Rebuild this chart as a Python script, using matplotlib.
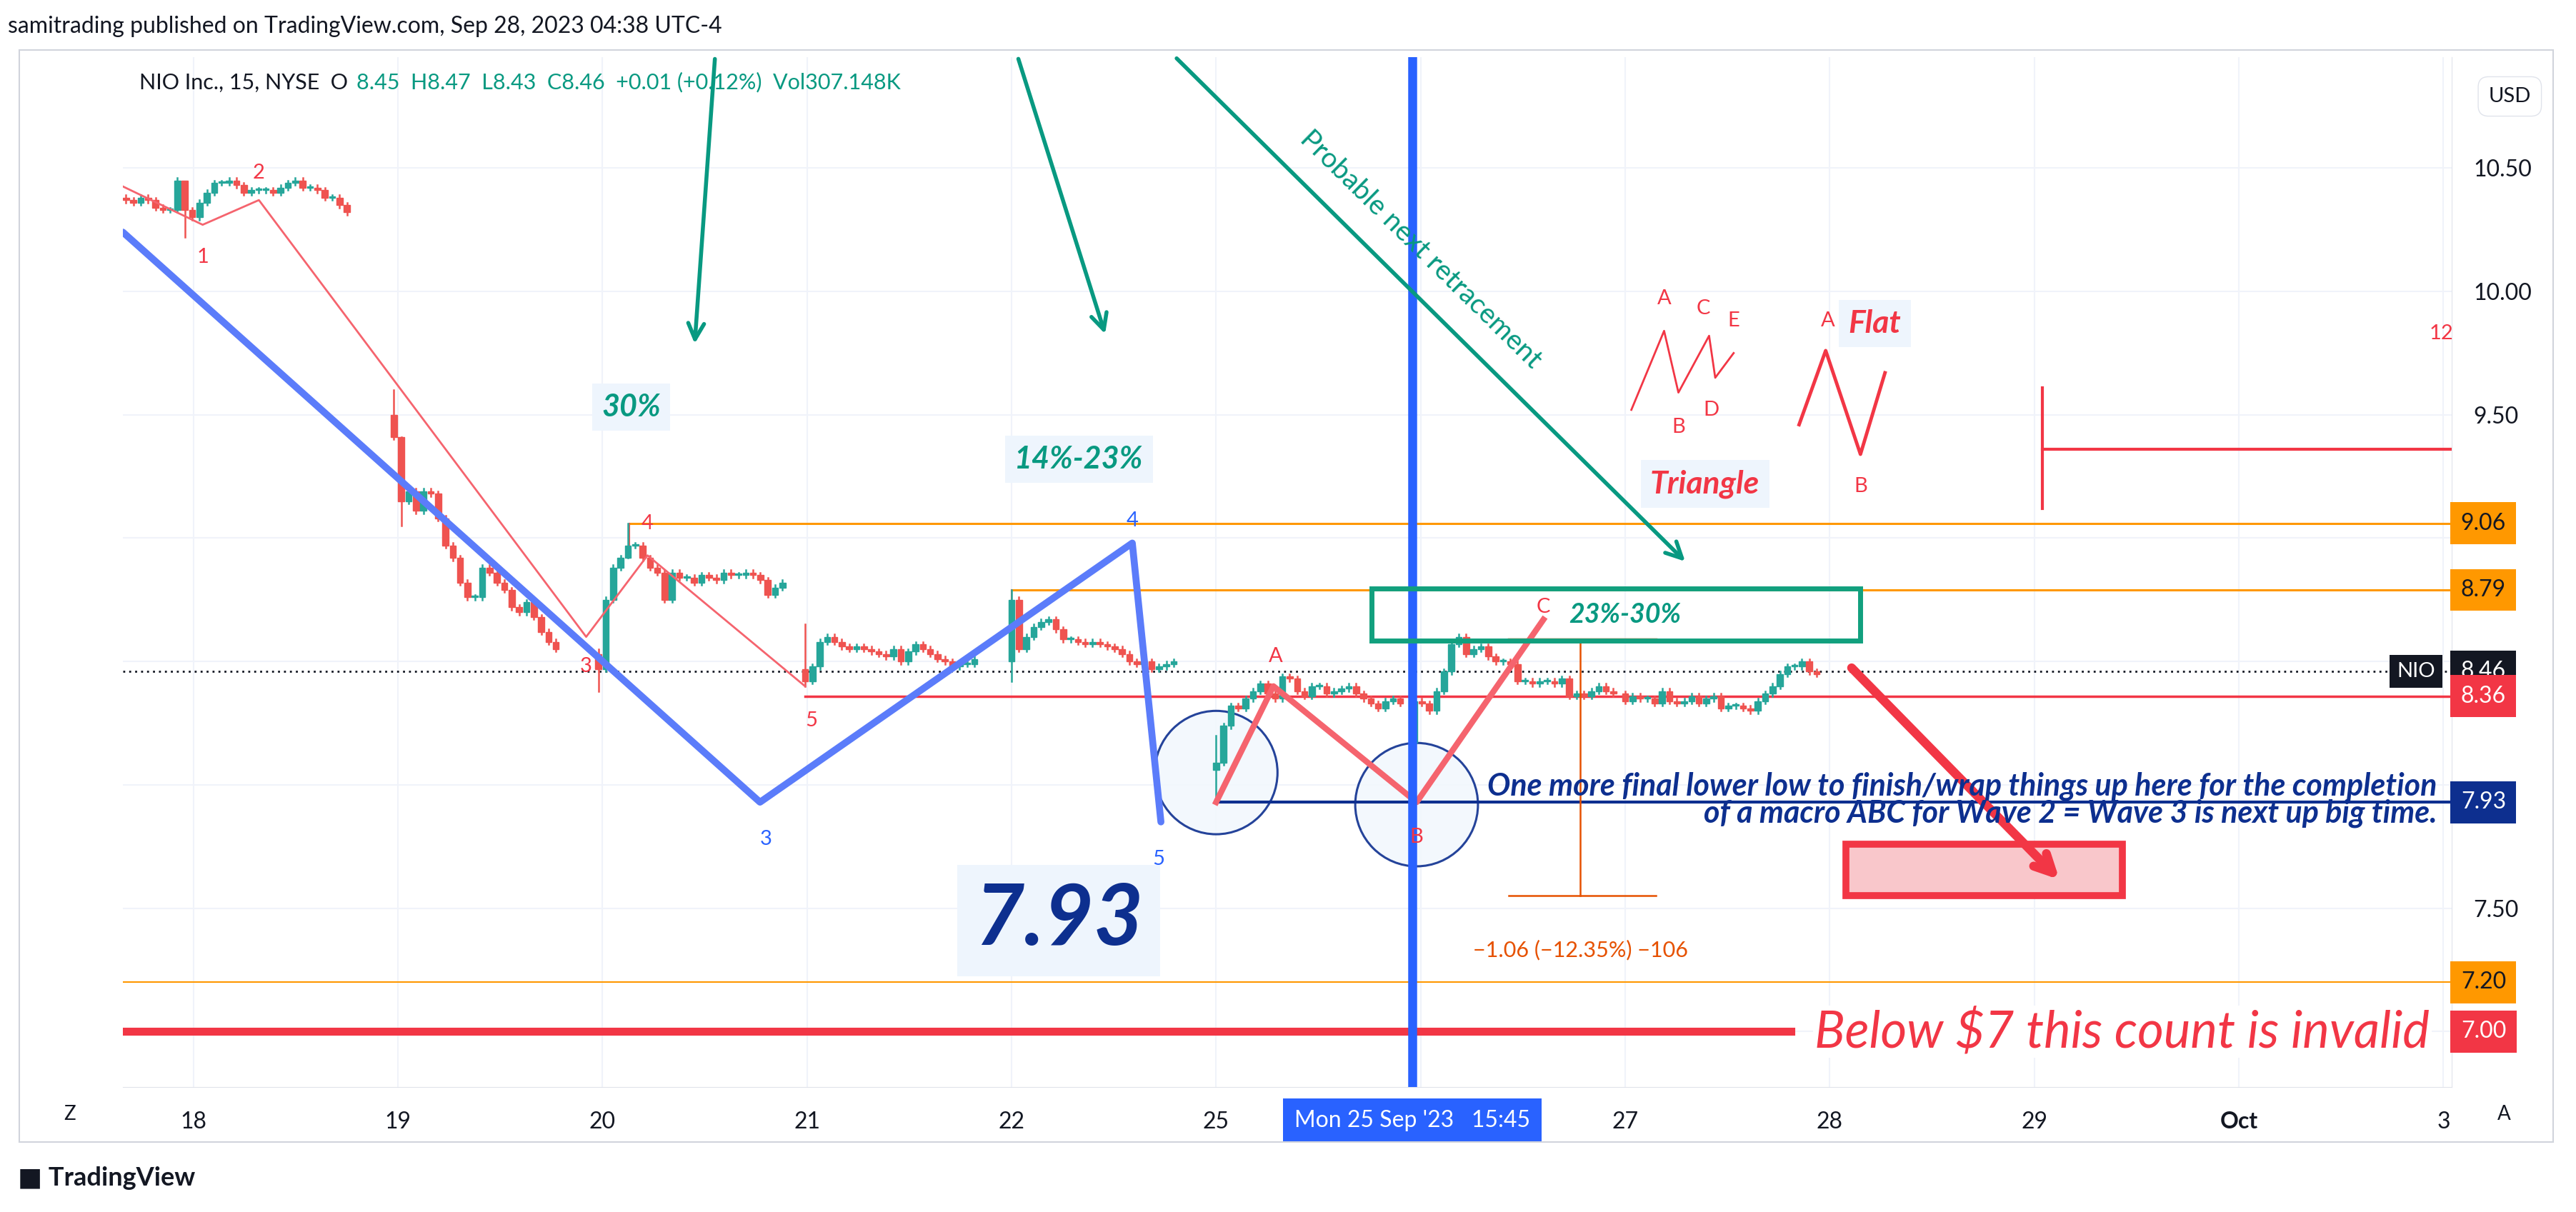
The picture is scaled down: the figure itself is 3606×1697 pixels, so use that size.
import matplotlib
matplotlib.use("Agg")
import matplotlib.pyplot as plt
from matplotlib.patches import Ellipse, Rectangle

plt.rcParams["font.family"] = ["Lato", "DejaVu Sans"]

# ---- data -------------------------------------------------------------
day_labels = ["18", "19", "20", "21", "22", "25", "", "27", "28", "29", "Oct", "3"]
price_ticks = [7.5, 9.5, 10.0, 10.5]

# 15-min sessions: (start position in day units, first open, closes, {bar: (high, low)})
sessions = [
    (-0.33, 10.38, [10.37, 10.36, 10.38, 10.37, 10.34, 10.33, 10.33, 10.45, 10.33, 10.30, 10.36,
                    10.40, 10.44, 10.44, 10.45, 10.43, 10.40, 10.41, 10.41, 10.41, 10.40, 10.42,
                    10.44, 10.45, 10.42, 10.42, 10.41, 10.38, 10.38, 10.35, 10.32],
     {8: (10.40, 10.22)}),
    (0.98, 9.50, [9.41, 9.15, 9.19, 9.11, 9.19, 9.18, 9.08, 8.97, 8.92, 8.82, 8.76, 8.76, 8.88,
                  8.86, 8.82, 8.79, 8.72, 8.70, 8.74, 8.68, 8.62, 8.58, 8.55],
     {0: (9.60, 9.40), 1: (9.41, 9.05)}),
    (1.98, 8.53, [8.47, 8.75, 8.88, 8.92, 8.97, 8.97, 8.92, 8.88, 8.86, 8.75, 8.86, 8.84, 8.84,
                  8.82, 8.85, 8.84, 8.83, 8.86, 8.85, 8.85, 8.86, 8.85, 8.83, 8.77, 8.80, 8.82],
     {0: (8.55, 8.38), 4: (9.06, 8.92)}),
    (2.99, 8.47, [8.42, 8.48, 8.58, 8.60, 8.58, 8.56, 8.55, 8.56, 8.55, 8.54, 8.53, 8.52, 8.55,
                  8.50, 8.54, 8.57, 8.55, 8.53, 8.51, 8.50, 8.48, 8.49, 8.49, 8.51],
     {0: (8.65, 8.40)}),
    (4.00, 8.50, [8.75, 8.55, 8.60, 8.64, 8.66, 8.67, 8.63, 8.59, 8.59, 8.58, 8.57, 8.58, 8.57,
                  8.56, 8.55, 8.53, 8.50, 8.49, 8.50, 8.47, 8.48, 8.49, 8.50],
     {0: (8.79, 8.42)}),
    (5.00, 8.06, [8.09, 8.24, 8.32, 8.31, 8.35, 8.38, 8.41, 8.37, 8.35, 8.44, 8.43, 8.38, 8.36,
                  8.40, 8.40, 8.37, 8.38, 8.39, 8.40, 8.37, 8.35, 8.33, 8.31, 8.34, 8.35, 8.33],
     {0: (8.20, 7.93)}),
    (5.97, 8.17, [8.34, 8.33, 8.30, 8.38, 8.46, 8.57, 8.60, 8.53, 8.55, 8.56, 8.52, 8.50, 8.50,
                  8.49, 8.42, 8.42, 8.41, 8.42, 8.42, 8.41, 8.43, 8.36, 8.37, 8.36, 8.38, 8.40,
                  8.38, 8.37],
     {0: (8.35, 7.93)}),
    (7.00, 8.37, [8.34, 8.36, 8.35, 8.35, 8.33, 8.38, 8.34, 8.33, 8.34, 8.36, 8.33, 8.35, 8.36,
                  8.31, 8.32, 8.32, 8.31, 8.30, 8.34, 8.37, 8.40, 8.45, 8.48, 8.48, 8.50, 8.46,
                  8.45],
     {}),
]
bar_step = 0.036

blue_wave_x = [-0.345, 2.77, 4.59, 4.73]
blue_wave_p = [10.24, 7.93, 8.98, 7.85]
red_wave_x = [-0.357, 0.045, 0.32, 1.92, 2.22, 2.99]
red_wave_p = [10.43, 10.27, 10.37, 8.60, 8.93, 8.40]
abc_x = [5.00, 5.28, 5.98, 6.60]
abc_p = [7.93, 8.40, 7.93, 8.67]
tri_x = [7.03, 7.19, 7.26, 7.41, 7.44, 7.53]
tri_p = [9.52, 9.84, 9.59, 9.82, 9.65, 9.75]
flat_x = [7.85, 7.98, 8.15, 8.27]
flat_p = [9.46, 9.76, 9.34, 9.67]

GREEN, RED = "#26a69a", "#ef5350"
TEAL = "#089981"
NAVY = "#0d2f8f"
ORANGE = "#ff9800"
XMIN, XMAX, YMIN, YMAX = -0.345, 11.04, 6.775, 10.95

fig = plt.figure(figsize=(36.06, 16.97), dpi=100)
ax = fig.add_axes([0.0477, 0.103, 0.904, 0.85])
ax.set_xlim(XMIN, XMAX)
ax.set_ylim(YMIN, YMAX)

# grid
for i in range(len(day_labels)):
    ax.axvline(i, color="#f0f3fa", lw=1.5, zorder=0)
for p in [7.0, 7.5, 8.0, 8.5, 9.0, 9.5, 10.0, 10.5]:
    ax.axhline(p, color="#f0f3fa", lw=1.5, zorder=0)

# candles
for start, first_open, closes, extremes in sessions:
    o = first_open
    for i, c in enumerate(closes):
        x = start + i * bar_step
        col = GREEN if c >= o else RED
        hi, lo = extremes.get(i, (max(o, c) + 0.01, min(o, c) - 0.01))
        ax.plot([x, x], [lo, hi], color=col, lw=1.8, zorder=3)
        ax.add_patch(Rectangle((x - 0.015, min(o, c)), 0.030, max(abs(c - o), 0.006),
                               color=col, zorder=3))
        o = c

# horizontal levels
ax.axhline(8.46, color="#131722", lw=2, ls=(0, (1, 2)), zorder=2)
ax.plot([2.13, XMAX], [9.06, 9.06], color=ORANGE, lw=2.2, zorder=2)
ax.plot([2.13, 2.13], [8.93, 9.06], color=RED, lw=1.5, zorder=2)
ax.plot([4.0, XMAX], [8.79, 8.79], color=ORANGE, lw=2.2, zorder=2)
ax.plot([4.0, 4.0], [8.50, 8.79], color=RED, lw=1.5, zorder=2)
ax.plot([2.99, XMAX], [8.36, 8.36], color="#f23645", lw=2.5, zorder=2)
ax.axhline(7.20, color=ORANGE, lw=1.5, zorder=2)
ax.plot([XMIN, 7.81], [7.00, 7.00], color="#f23645", lw=8, zorder=2)
ax.plot([5.0, XMAX], [7.93, 7.93], color=NAVY, lw=3, zorder=4)

# waves
ax.plot(blue_wave_x, blue_wave_p, color="#5b7cfa", lw=7, zorder=5, solid_capstyle="round")
ax.plot(red_wave_x, red_wave_p, color="#f5646e", lw=2, zorder=4)
ax.plot(abc_x, abc_p, color="#f5646e", lw=6, zorder=5)
ax.plot(tri_x, tri_p, color="#f23645", lw=2, zorder=4)
ax.plot(flat_x, flat_p, color="#f23645", lw=3.5, zorder=4)

for e in [(5.0, 8.05), (5.98, 7.92)]:
    ax.add_patch(Ellipse(e, 0.60, 0.50, facecolor="#f2f8fd", edgecolor=NAVY, lw=2.2, alpha=0.9, zorder=2))

ax.axvline(5.96, color="#2962ff", lw=9, zorder=6)

def lab(x, p, s, col, size=21, **kw):
    ax.text(x, p, s, color=col, fontsize=size, ha="center", va="center", zorder=8, **kw)

for x, p, s in [(0.045, 10.14, "1"), (0.32, 10.48, "2"), (1.92, 8.48, "3"), (2.22, 9.06, "4"),
                (3.02, 8.26, "5"), (5.29, 8.52, "A"), (5.98, 7.79, "B"), (6.60, 8.72, "C"),
                (7.19, 9.97, "A"), (7.38, 9.93, "C"), (7.53, 9.88, "E"), (7.26, 9.45, "B"),
                (7.42, 9.52, "D"), (7.99, 9.88, "A"), (8.27, 9.80, "C"), (8.15, 9.21, "B"),
                (10.99, 9.83, "12")]:
    lab(x, p, s, "#f23645")
for x, p, s in [(2.80, 7.78, "3"), (4.59, 9.07, "4"), (4.72, 7.70, "5")]:
    lab(x, p, s, "#2962ff")

bg = dict(boxstyle="square,pad=0.3", facecolor="#eef5fd", edgecolor="none")
lab(7.39, 9.22, "Triangle", "#f23645", 32, fontweight="bold", style="italic", bbox=bg)
lab(8.22, 9.87, "Flat", "#f23645", 32, fontweight="bold", style="italic", bbox=bg)
lab(2.14, 9.53, "30%", TEAL, 31, fontweight="bold", style="italic", bbox=bg)
lab(4.33, 9.32, "14%-23%", TEAL, 31, fontweight="bold", style="italic", bbox=bg)
lab(4.23, 7.45, "7.93", NAVY, 86, fontweight="bold", style="italic",
    bbox=dict(boxstyle="square,pad=0.2", facecolor="#eef5fd", edgecolor="none"))

# red L
ax.plot([9.04, 9.04], [9.12, 9.61], color="#f23645", lw=3, zorder=4)
ax.plot([9.04, XMAX], [9.36, 9.36], color="#f23645", lw=3, zorder=4)

# green arrows
for (x0, p0), (x1, p1) in [((2.55, 10.95), (2.45, 9.78)), ((4.03, 10.95), (4.46, 9.82)),
                           ((4.80, 10.95), (7.30, 8.90))]:
    ax.annotate("", xy=(x1, p1), xytext=(x0, p0),
                arrowprops=dict(arrowstyle="->,head_length=1.6,head_width=0.8", color=TEAL, lw=4),
                zorder=7)
lab(6.0, 10.17, "Probable next retracement", TEAL, 28, rotation=-44.5)

# target box
ax.add_patch(Rectangle((5.76, 8.585), 8.15 - 5.76, 8.795 - 8.585, fill=False, edgecolor="#12a07e",
                       lw=5, zorder=6))
lab(7.0, 8.69, "23%-30%", TEAL, 27, fontweight="bold", style="italic")

# measure
ax.plot([6.78, 6.78], [7.55, 8.59], color="#e65100", lw=1.8, zorder=4)
ax.plot([6.43, 7.15], [8.59, 8.59], color="#e65100", lw=2.5, zorder=4)
ax.plot([6.43, 7.15], [7.55, 7.55], color="#e65100", lw=1.8, zorder=4)
lab(6.78, 7.33, "\u22121.06 (\u221212.35%) \u2212106", "#e65100", 22)

ax.text(10.97, 7.94, "One more final lower low to finish/wrap things up here for the completion\n"
        "of a macro ABC for Wave 2 = Wave 3 is next up big time.", color=NAVY, fontsize=31,
        style="italic", fontweight="bold", ha="right", va="center", zorder=8, linespacing=0.95)

ax.add_patch(Rectangle((8.08, 7.55), 1.35, 0.21, facecolor="#f9c7cb", edgecolor="#f23645", lw=7, zorder=6))
ax.annotate("", xy=(9.13, 7.61), xytext=(8.10, 8.48),
            arrowprops=dict(arrowstyle="->,head_length=1.8,head_width=0.9", color="#f23645", lw=9), zorder=7)

ax.text(9.43, 7.0, "Below $7 this count is invalid", color="#f23645", fontsize=51, style="italic",
        ha="center", va="center", zorder=8, bbox=dict(facecolor="white", edgecolor="none", pad=2))

# axes
for s in ["top", "left"]:
    ax.spines[s].set_visible(False)
ax.spines["right"].set_color("#e0e3eb")
ax.spines["bottom"].set_color("#e0e3eb")
ax.yaxis.tick_right()
ax.set_yticks(price_ticks)
ax.set_yticklabels([f"{v:.2f}" for v in price_ticks], fontsize=23, color="#131722")
ax.set_xticks(range(len(day_labels)))
ax.set_xticklabels(day_labels, fontsize=23, color="#131722")
ax.get_xticklabels()[10].set_fontweight("bold")
ax.tick_params(axis="x", length=0, pad=24)
ax.tick_params(axis="y", length=0, pad=22)

ytr = ax.get_yaxis_transform()
for p, s, fc, tc in [(9.06, "9.06", ORANGE, "#131722"), (8.79, "8.79", ORANGE, "#131722"),
                     (8.46, "8.46", "#131722", "white"), (8.36, "8.36", "#f23645", "white"),
                     (7.93, "7.93", NAVY, "white"), (7.20, "7.20", ORANGE, "#131722"),
                     (7.00, "7.00", "#f23645", "white")]:
    ax.text(1.004, p, s, transform=ytr, fontsize=23, color=tc, ha="left", va="center", zorder=10,
            clip_on=False, bbox=dict(boxstyle="square,pad=0.45", facecolor=fc, edgecolor="none"))
ax.text(0.993, 8.46, "NIO", transform=ytr, fontsize=21, color="white", ha="right", va="center",
        zorder=10, bbox=dict(boxstyle="square,pad=0.35", facecolor="#131722", edgecolor="none"))
ax.text(1.025, 10.79, "USD", transform=ytr, fontsize=21, color="#131722", ha="center", va="center",
        bbox=dict(boxstyle="round,pad=0.5", facecolor="white", edgecolor="#e0e3eb"))

ax.text(5.96, -0.022, "Mon 25 Sep '23   15:45", transform=ax.get_xaxis_transform(), fontsize=23,
        color="white", ha="center", va="top", clip_on=False, zorder=10,
        bbox=dict(boxstyle="square,pad=0.5", facecolor="#2962ff", edgecolor="none"))

# header / footer
fig.text(0.003, 0.978, "samitrading published on TradingView.com, Sep 28, 2023 04:38 UTC-4",
         fontsize=23, color="#131722", va="center")
fig.text(0.054, 0.932, "NIO Inc., 15, NYSE  O", fontsize=22, color="#131722", va="center")
fig.text(0.1385, 0.932, "8.45  H8.47  L8.43  C8.46  +0.01 (+0.12%)  Vol307.148K", fontsize=22,
         color=TEAL, va="center")
fig.text(0.027, 0.081, "Z", fontsize=20, color="#131722", va="center", ha="center")
fig.text(0.972, 0.081, "A", fontsize=20, color="#131722", va="center", ha="center")
fig.text(0.007, 0.028, "\u25a0 TradingView", fontsize=26, fontweight="bold", color="#131722", va="center")
fig.add_artist(Rectangle((0.0075, 0.058), 0.9835, 0.901, transform=fig.transFigure,
                         fill=False, edgecolor="#d1d4dc", lw=1.5))

fig.savefig("out.png", dpi=100)
